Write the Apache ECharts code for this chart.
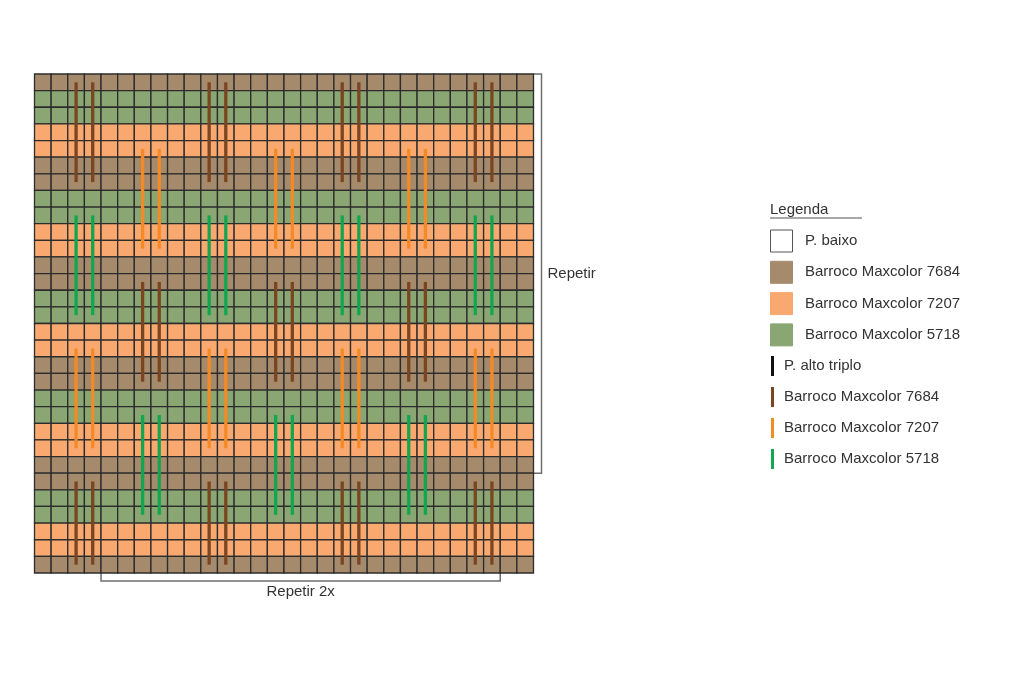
<!DOCTYPE html>
<html>
<head>
<meta charset="utf-8">
<title>Gráfico - Barroco Maxcolor</title>
<script src="https://cdn.jsdelivr.net/npm/echarts@6/dist/echarts.min.js"></script>
<style>
  html, body { margin: 0; padding: 0; background: #fff; }
  #chart { width: 1024px; height: 676px; }
</style>
</head>
<body>
<div id="chart"></div>
<script>
// cores dos fios (preenchimento das celulas e dos pontos altos)
var cellColors = { brown: '#a68a6c', orange: '#f9a970', green: '#8aa673' };
var stitchColors = { brown: '#7a4521', orange: '#f48a26', green: '#13a651' };

// cor de cada carreira, de cima para baixo (30 carreiras)
var rowColors = [
    'brown',
    'green', 'green', 'orange', 'orange', 'brown', 'brown',
    'green', 'green', 'orange', 'orange', 'brown', 'brown',
    'green', 'green', 'orange', 'orange', 'brown', 'brown',
    'green', 'green', 'orange', 'orange', 'brown', 'brown',
    'green', 'green', 'orange', 'orange',
    'brown'
];
var colCount = 30;

// pontos altos triplos: [coluna esquerda do par, carreira inicial, carreira final, cor]
var stitchPairs = [
    [2, 0.5, 6.5, 'brown'], [2, 8.5, 14.5, 'green'], [2, 16.5, 22.5, 'orange'], [2, 24.5, 29.5, 'brown'],
    [6, 4.5, 10.5, 'orange'], [6, 12.5, 18.5, 'brown'], [6, 20.5, 26.5, 'green'],
    [10, 0.5, 6.5, 'brown'], [10, 8.5, 14.5, 'green'], [10, 16.5, 22.5, 'orange'], [10, 24.5, 29.5, 'brown'],
    [14, 4.5, 10.5, 'orange'], [14, 12.5, 18.5, 'brown'], [14, 20.5, 26.5, 'green'],
    [18, 0.5, 6.5, 'brown'], [18, 8.5, 14.5, 'green'], [18, 16.5, 22.5, 'orange'], [18, 24.5, 29.5, 'brown'],
    [22, 4.5, 10.5, 'orange'], [22, 12.5, 18.5, 'brown'], [22, 20.5, 26.5, 'green'],
    [26, 0.5, 6.5, 'brown'], [26, 8.5, 14.5, 'green'], [26, 16.5, 22.5, 'orange'], [26, 24.5, 29.5, 'brown']
];

// repeticoes: carreiras e colunas marcadas pelos colchetes
var repeatRows = [0, 24];
var repeatCols = [4, 28];

// legenda
var legendFills = [
    { name: 'P. baixo', color: '#ffffff' },
    { name: 'Barroco Maxcolor 7684', color: cellColors.brown },
    { name: 'Barroco Maxcolor 7207', color: cellColors.orange },
    { name: 'Barroco Maxcolor 5718', color: cellColors.green }
];
var legendLines = [
    { name: 'P. alto triplo', color: '#111111' },
    { name: 'Barroco Maxcolor 7684', color: stitchColors.brown },
    { name: 'Barroco Maxcolor 7207', color: stitchColors.orange },
    { name: 'Barroco Maxcolor 5718', color: stitchColors.green }
];

var FONT = '"Liberation Sans", Arial, sans-serif';
var FS = '15px ';

// monta os dados das celulas
var cellData = [];
for (var r = 0; r < rowColors.length; r++) {
    for (var c = 0; c < colCount; c++) {
        cellData.push([c, r, rowColors[r]]);
    }
}
// cada par vira duas linhas verticais
var stitchData = [];
stitchPairs.forEach(function (p) {
    stitchData.push([p[0], p[1], p[2], p[3]]);
    stitchData.push([p[0] + 1, p[1], p[2], p[3]]);
});

var chart = echarts.init(document.getElementById('chart'));

var option = {
    backgroundColor: '#ffffff',
    animation: false,
    grid: { left: 34.5, top: 74, width: 499, height: 499 },
    xAxis: { type: 'value', min: 0, max: colCount, show: false },
    yAxis: { type: 'value', min: 0, max: rowColors.length, inverse: true, show: false },
    series: [{
        type: 'custom',
        name: 'celulas',
        data: cellData,
        silent: true,
        renderItem: function (params, api) {
            var col = api.value(0), row = api.value(1);
            var p0 = api.coord([col, row]);
            var p1 = api.coord([col + 1, row + 1]);
            return {
                type: 'rect',
                shape: { x: p0[0], y: p0[1], width: p1[0] - p0[0], height: p1[1] - p0[1] },
                style: { fill: cellColors[cellData[params.dataIndex][2]], stroke: '#2c2c2c', lineWidth: 1.3 }
            };
        }
    }, {
        type: 'custom',
        name: 'pontos',
        data: stitchData,
        silent: true,
        renderItem: function (params, api) {
            var col = api.value(0);
            var a = api.coord([col + 0.5, api.value(1)]);
            var b = api.coord([col + 0.5, api.value(2)]);
            return {
                type: 'line',
                shape: { x1: a[0], y1: a[1], x2: b[0], y2: b[1] },
                style: { stroke: stitchColors[stitchData[params.dataIndex][3]], lineWidth: 3.3 }
            };
        }
    }]
};
chart.setOption(option);

// colchetes de repeticao
var graphics = [];
var topR = chart.convertToPixel({ gridIndex: 0 }, [colCount, repeatRows[0]]);
var botR = chart.convertToPixel({ gridIndex: 0 }, [colCount, repeatRows[1]]);
var bx = topR[0] + 8;
graphics.push({
    type: 'polyline',
    shape: { points: [[topR[0], topR[1]], [bx, topR[1]], [bx, botR[1]], [botR[0], botR[1]]] },
    style: { stroke: '#6e6e6e', lineWidth: 1.5, fill: null }
});
graphics.push({
    type: 'text', x: bx + 6, y: (topR[1] + botR[1]) / 2,
    style: { text: 'Repetir', font: FS + FONT, fill: '#333333', textVerticalAlign: 'middle' }
});

var lc = chart.convertToPixel({ gridIndex: 0 }, [repeatCols[0], rowColors.length]);
var rc = chart.convertToPixel({ gridIndex: 0 }, [repeatCols[1], rowColors.length]);
var by = lc[1] + 8;
graphics.push({
    type: 'polyline',
    shape: { points: [[lc[0], lc[1]], [lc[0], by], [rc[0], by], [rc[0], rc[1]]] },
    style: { stroke: '#6e6e6e', lineWidth: 1.5, fill: null }
});
graphics.push({
    type: 'text', x: (lc[0] + rc[0]) / 2, y: by + 11,
    style: { text: 'Repetir 2x', font: FS + FONT, fill: '#333333', textAlign: 'center', textVerticalAlign: 'middle' }
});

// legenda
graphics.push({
    type: 'text', x: 770, y: 210,
    style: { text: 'Legenda', font: FS + FONT, fill: '#333333', textVerticalAlign: 'middle' }
});
graphics.push({
    type: 'line', shape: { x1: 770, y1: 218, x2: 862, y2: 218 },
    style: { stroke: '#555555', lineWidth: 1.2 }
});
legendFills.forEach(function (item, i) {
    var cy = 241 + i * 31.3;
    graphics.push({
        type: 'rect', shape: { x: 770.5, y: cy - 11, width: 22, height: 22 },
        style: { fill: item.color, stroke: i === 0 ? '#555555' : item.color, lineWidth: 1 }
    });
    graphics.push({
        type: 'text', x: 805, y: cy,
        style: { text: item.name, font: FS + FONT, fill: '#333333', textVerticalAlign: 'middle' }
    });
});
legendLines.forEach(function (item, i) {
    var cy = 366 + i * 31;
    graphics.push({
        type: 'line', shape: { x1: 772.5, y1: cy - 10, x2: 772.5, y2: cy + 10 },
        style: { stroke: item.color, lineWidth: 3 }
    });
    graphics.push({
        type: 'text', x: 784, y: cy,
        style: { text: item.name, font: FS + FONT, fill: '#333333', textVerticalAlign: 'middle' }
    });
});
chart.setOption({ graphic: graphics });
</script>
</body>
</html>
